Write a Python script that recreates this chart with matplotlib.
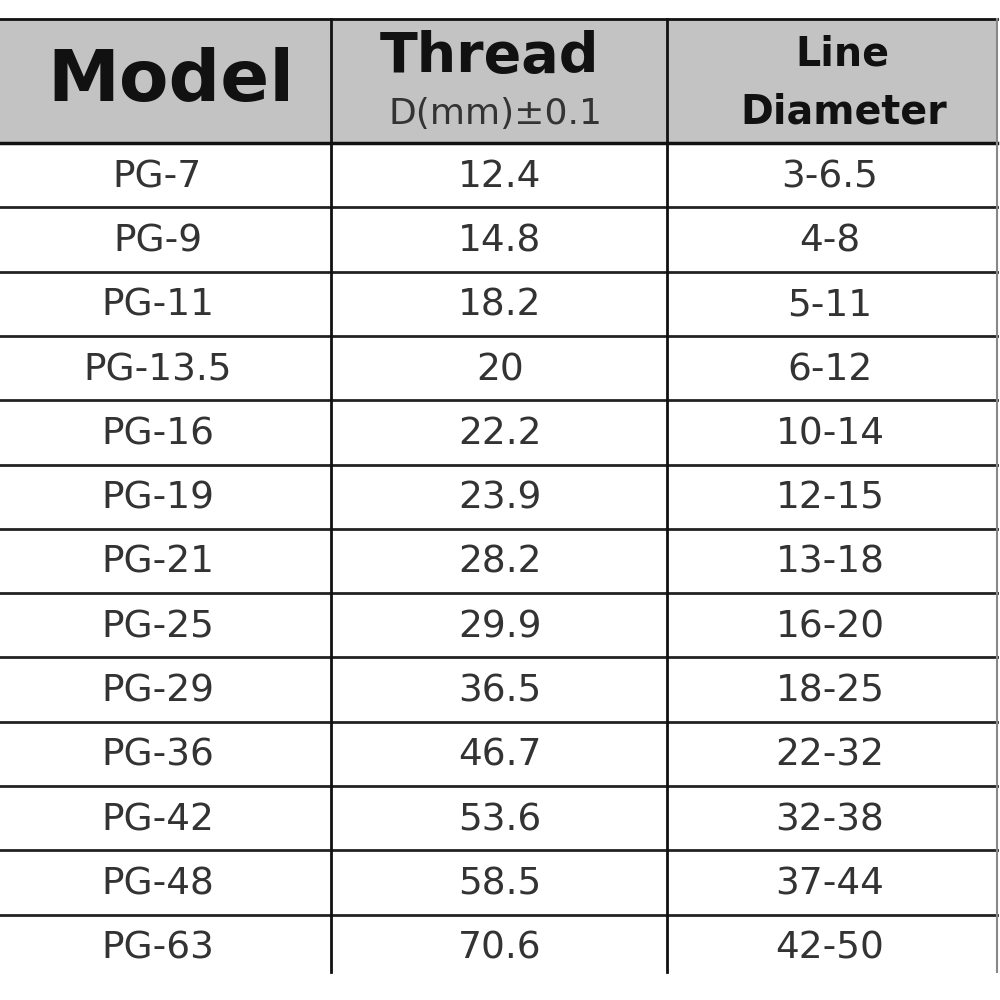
import matplotlib.pyplot as plt

# table contents
models = ['PG-7', 'PG-9', 'PG-11', 'PG-13.5', 'PG-16', 'PG-19', 'PG-21',
          'PG-25', 'PG-29', 'PG-36', 'PG-42', 'PG-48', 'PG-63']
thread_d = ['12.4', '14.8', '18.2', '20', '22.2', '23.9', '28.2',
            '29.9', '36.5', '46.7', '53.6', '58.5', '70.6']
line_diam = ['3-6.5', '4-8', '5-11', '6-12', '10-14', '12-15', '13-18',
             '16-20', '18-25', '22-32', '32-38', '37-44', '42-50']

# layout in pixels (figure is 1000x1000)
col_edges = [0, 331, 667, 997]
top = 19
head_bottom = 143
row_h = 64.3
bottom = 972

fig = plt.figure(figsize=(10, 10), dpi=100)
ax = fig.add_axes([0, 0, 1, 1])
ax.set_xlim(0, 1000)
ax.set_ylim(1000, 0)
ax.axis('off')

# header background
ax.add_patch(plt.Rectangle((0, top), col_edges[-1], head_bottom - top,
                           facecolor='#c3c3c3', edgecolor='none'))

centers = [(col_edges[i] + col_edges[i + 1]) / 2 for i in range(3)]
shift = [-8, 1, -2]

# header text
ax.text(centers[0] + 5, 82, 'Model', ha='center', va='center',
        fontsize=52, fontweight='bold', color='#111')
ax.text(centers[1] - 10, 57, 'Thread', ha='center', va='center',
        fontsize=40, fontweight='bold', color='#111')
ax.text(centers[1] - 3, 114, 'D(mm)±0.1', ha='center', va='center',
        fontsize=26, color='#333')
ax.text(centers[2] + 10, 55, 'Line', ha='center', va='center',
        fontsize=28.5, fontweight='bold', color='#111')
ax.text(centers[2] + 12, 112, 'Diameter', ha='center', va='center',
        fontsize=28.5, fontweight='bold', color='#111')

# body rows
for i, (m, t, d) in enumerate(zip(models, thread_d, line_diam)):
    y = head_bottom + row_h * (i + 0.5)
    for cx, dx, s in zip(centers, shift, (m, t, d)):
        ax.text(cx + dx, y + 2, s, ha='center', va='center',
                fontsize=27, color='#333')

# grid lines
ax.plot([0, col_edges[-1]], [top, top], color='#111', lw=2)
ax.plot([0, col_edges[-1]], [head_bottom, head_bottom], color='#111', lw=2.5)
for i in range(1, len(models)):
    y = head_bottom + row_h * i
    ax.plot([0, col_edges[-1]], [y, y], color='#222', lw=2)
for x in col_edges[1:3]:
    ax.plot([x, x], [top, bottom], color='#111', lw=2)
ax.plot([col_edges[-1], col_edges[-1]], [top, bottom], color='#888', lw=1.5)

fig.savefig('out.png', dpi=100, facecolor='white')
